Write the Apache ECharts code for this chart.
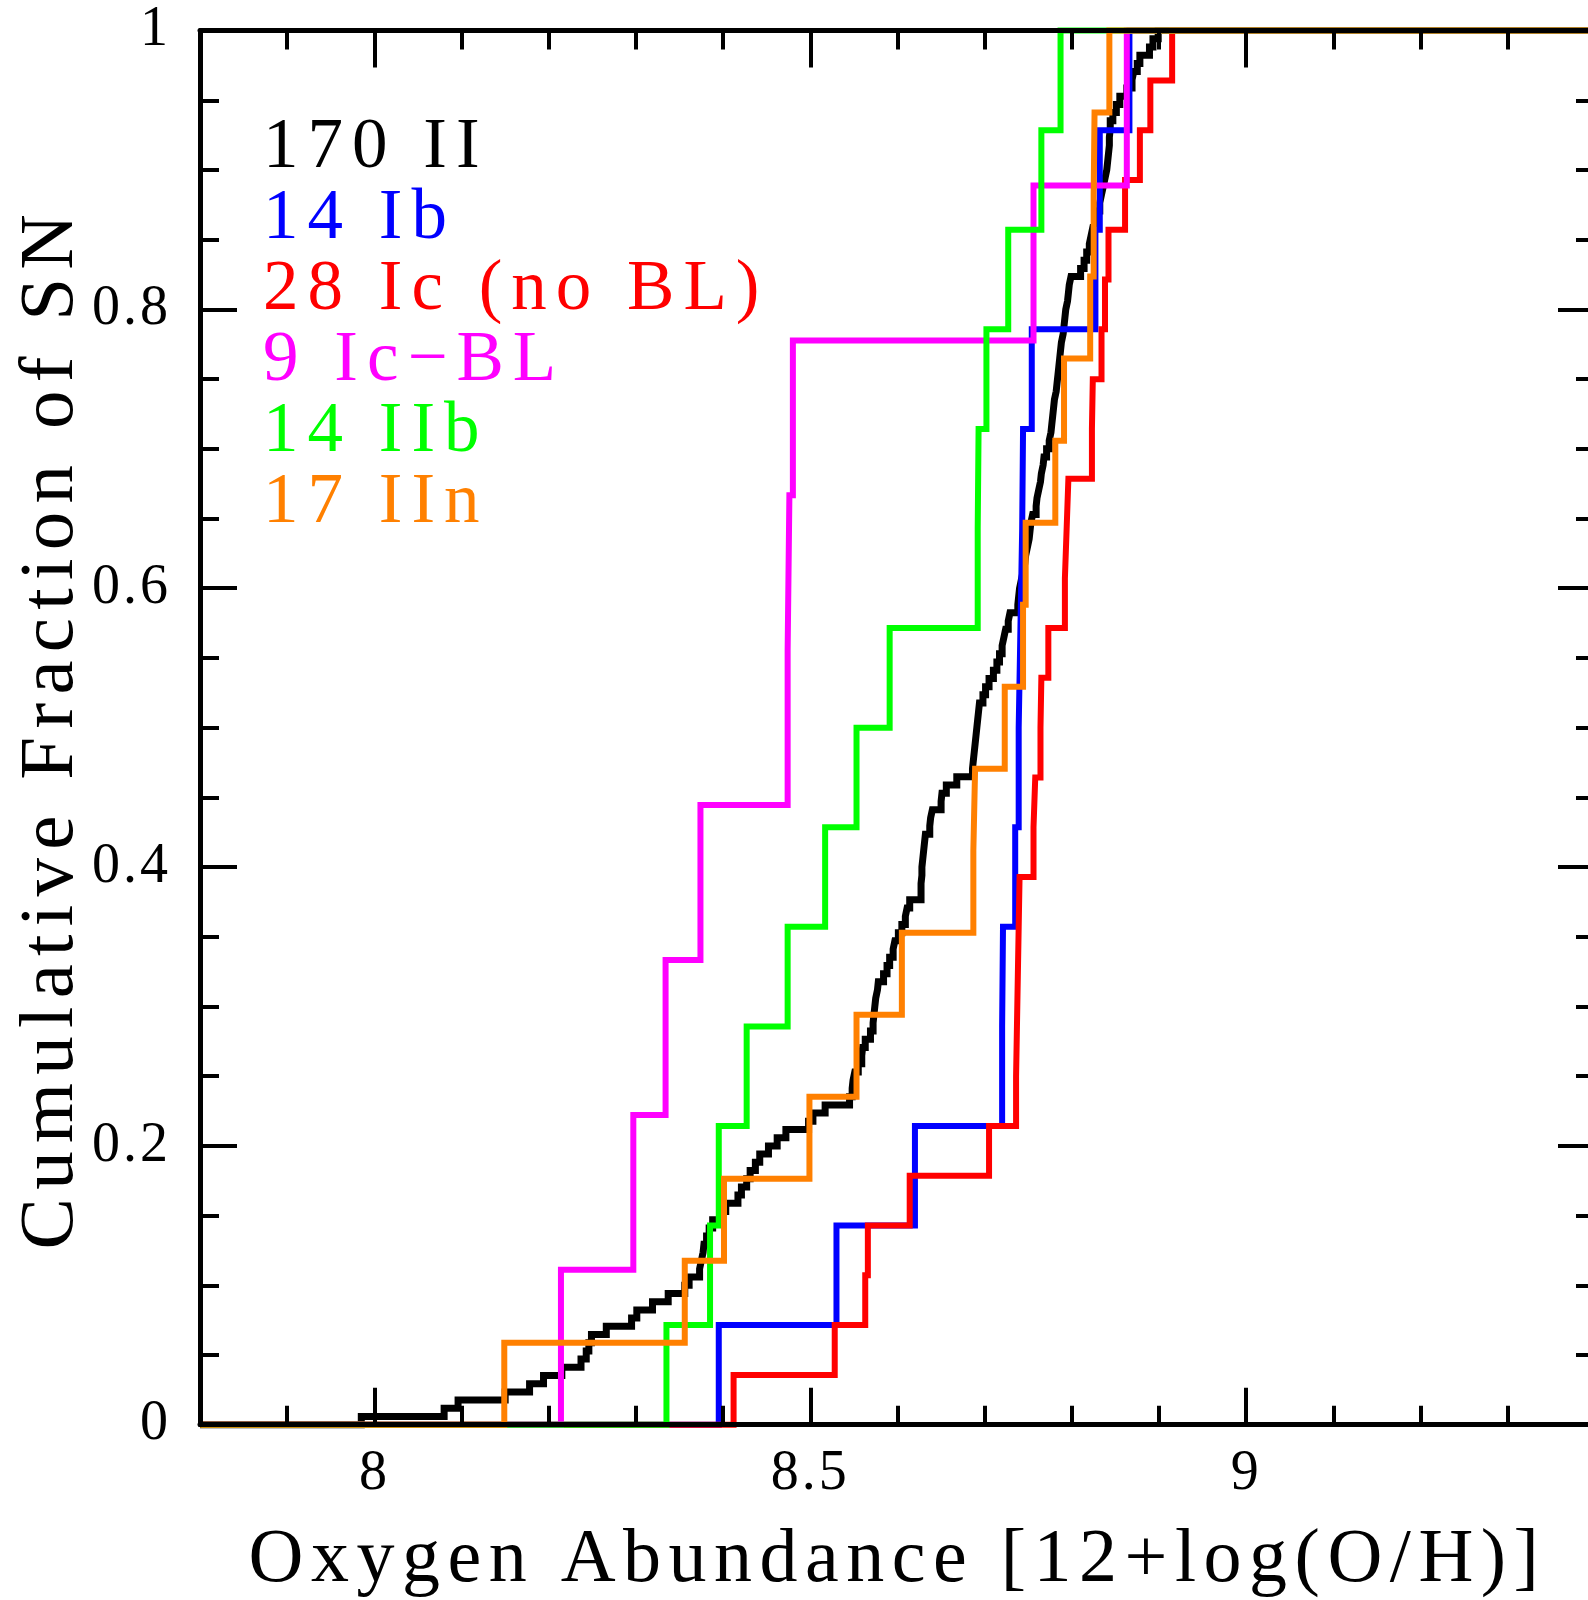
<!DOCTYPE html>
<html>
<head>
<meta charset="utf-8">
<script src="https://cdn.jsdelivr.net/npm/echarts@6/dist/echarts.min.js"></script>
<style>
  html, body { margin: 0; padding: 0; background: #ffffff; overflow: hidden; }
  #chart { width: 1600px; height: 1600px; }
</style>
</head>
<body>
<div id="chart"></div>
<script>
// Host-galaxy oxygen abundances, 12+log(O/H), sorted ascending, one array per SN class
const typeII = [
  7.985, 8.080, 8.096, 8.150, 8.178, 8.194, 8.215, 8.237, 8.243, 8.246,
  8.249, 8.266, 8.295, 8.301, 8.319, 8.337, 8.356, 8.361, 8.373, 8.375,
  8.377, 8.378, 8.381, 8.384, 8.388, 8.398, 8.403, 8.417, 8.421, 8.427,
  8.431, 8.437, 8.442, 8.452, 8.462, 8.472, 8.498, 8.503, 8.517, 8.545,
  8.548, 8.549, 8.551, 8.555, 8.559, 8.560, 8.563, 8.569, 8.572, 8.573,
  8.574, 8.575, 8.577, 8.578, 8.584, 8.588, 8.591, 8.595, 8.597, 8.601,
  8.605, 8.609, 8.611, 8.614, 8.627, 8.627, 8.628, 8.628, 8.629, 8.630,
  8.631, 8.632, 8.637, 8.638, 8.640, 8.650, 8.651, 8.656, 8.668, 8.686,
  8.687, 8.688, 8.689, 8.690, 8.691, 8.692, 8.693, 8.694, 8.698, 8.701,
  8.705, 8.710, 8.714, 8.717, 8.720, 8.722, 8.724, 8.727, 8.729, 8.738,
  8.739, 8.740, 8.742, 8.744, 8.746, 8.747, 8.749, 8.751, 8.752, 8.753,
  8.755, 8.759, 8.760, 8.762, 8.764, 8.765, 8.767, 8.768, 8.771, 8.774,
  8.776, 8.777, 8.778, 8.779, 8.780, 8.782, 8.783, 8.784, 8.785, 8.786,
  8.787, 8.788, 8.790, 8.791, 8.792, 8.793, 8.795, 8.796, 8.797, 8.799,
  8.810, 8.814, 8.817, 8.820, 8.822, 8.824, 8.827, 8.829, 8.832, 8.834,
  8.836, 8.838, 8.840, 8.841, 8.842, 8.843, 8.843, 8.844, 8.844, 8.847,
  8.851, 8.855, 8.863, 8.869, 8.871, 8.875, 8.878, 8.889, 8.893, 8.899
];
const typeIb = [8.395, 8.530, 8.620, 8.720, 8.721, 8.735, 8.739, 8.741, 8.743, 8.744, 8.754, 8.827, 8.832, 8.866];
const typeIc = [
  8.412, 8.528, 8.563, 8.566, 8.614, 8.705, 8.736, 8.737, 8.738, 8.739,
  8.740, 8.756, 8.758, 8.764, 8.765, 8.773, 8.792, 8.794, 8.796, 8.823,
  8.824, 8.834, 8.838, 8.842, 8.861, 8.878, 8.890, 8.915
];
const typeIcBL = [8.214, 8.297, 8.334, 8.374, 8.474, 8.476, 8.480, 8.756, 8.863];
const typeIIb = [8.335, 8.385, 8.395, 8.427, 8.474, 8.517, 8.553, 8.591, 8.692, 8.693, 8.702, 8.727, 8.765, 8.787];
const typeIIn = [8.149, 8.356, 8.401, 8.499, 8.553, 8.605, 8.687, 8.689, 8.723, 8.744, 8.747, 8.781, 8.791, 8.821, 8.825, 8.826, 8.843];

// Class names shown after the sample size
const classNames = ['II', 'Ib', 'Ic (no BL)', 'Ic\u2212BL', 'IIb', 'IIn'];
const classColors = ['#000000', '#0000ff', '#ff0000', '#ff00ff', '#00ff00', '#ff8000'];
const classSamples = [typeII, typeIb, typeIc, typeIcBL, typeIIb, typeIIn];

// Axis range and tick positions
const xRange = [7.8, 9.4];
const xMajorTicks = [8, 8.5, 9];
const xMinorTicks = [7.9, 8.1, 8.2, 8.3, 8.4, 8.6, 8.7, 8.8, 8.9, 9.1, 9.2, 9.3];
const yMajorTicks = [0, 0.2, 0.4, 0.6, 0.8, 1];
const yMinorTicks = [0.05, 0.1, 0.15, 0.25, 0.3, 0.35, 0.45, 0.5, 0.55, 0.65, 0.7, 0.75, 0.85, 0.9, 0.95];

const FONT = "'Liberation Serif', 'DejaVu Serif', serif";

// Wide tracking for the plotting-package lettering, keyed on font size
function trackingFor(font) {
  const m = /(\d+(?:\.\d+)?)px/.exec(font || '');
  const size = m ? parseFloat(m[1]) : 12;
  if (size >= 77) return 8.3;
  if (size >= 74) return 7.5;
  if (size >= 64) return 9;
  if (size >= 45) return 3;
  return 0;
}
(function () {
  const proto = CanvasRenderingContext2D.prototype;
  const rawFillText = proto.fillText;
  proto.fillText = function (text, x, y, maxWidth) {
    if ('letterSpacing' in this) this.letterSpacing = trackingFor(this.font) + 'px';
    return maxWidth === undefined
      ? rawFillText.call(this, text, x, y)
      : rawFillText.call(this, text, x, y, maxWidth);
  };
})();

// Empirical cumulative distribution as an explicit staircase
function cumulativeSteps(values) {
  const n = values.length;
  const pts = [[xRange[0], 0]];
  values.forEach(function (v, i) {
    pts.push([v, i / n]);
    pts.push([v, (i + 1) / n]);
  });
  pts.push([xRange[1], 1]);
  return pts;
}

const labels = classSamples.map(function (s, i) { return s.length + ' ' + classNames[i]; });

const series = classSamples.map(function (s, i) {
  return {
    name: labels[i],
    type: 'line',
    data: cumulativeSteps(s),
    symbol: 'none',
    clip: false,
    silent: true,
    lineStyle: { color: classColors[i], width: i === 0 ? 7 : 6, join: 'miter', cap: 'butt' },
    itemStyle: { color: classColors[i] }
  };
});

const tickStyle = { color: '#000', width: 4 };
const AXIS_Z = 5;

function xAxisDef(position, ticks, len, withLine, withLabels) {
  return {
    type: 'value', position: position, min: xRange[0], max: xRange[1], z: AXIS_Z,
    axisLine: { show: withLine, onZero: false, lineStyle: { color: '#000', width: 5 } },
    axisTick: { show: true, inside: true, length: len, customValues: ticks, lineStyle: tickStyle },
    axisLabel: withLabels
      ? { show: true, customValues: ticks, margin: 22, color: '#000', fontFamily: FONT, fontSize: 56 }
      : { show: false },
    splitLine: { show: false }
  };
}
function yAxisDef(position, ticks, len, withLine, withLabels) {
  return {
    type: 'value', position: position, min: 0, max: 1, z: AXIS_Z,
    axisLine: { show: withLine, onZero: false, lineStyle: { color: '#000', width: 5 } },
    axisTick: { show: true, inside: true, length: len, customValues: ticks, lineStyle: tickStyle },
    axisLabel: withLabels
      ? { show: true, customValues: ticks, margin: 29, color: '#000', fontFamily: FONT, fontSize: 56 }
      : { show: false },
    splitLine: { show: false }
  };
}

const xMain = xAxisDef('bottom', xMajorTicks, 37, true, true);
xMain.name = 'Oxygen Abundance [12+log(O/H)]';
xMain.nameLocation = 'middle';
xMain.nameGap = 98;
xMain.nameTextStyle = { color: '#000', fontFamily: FONT, fontSize: 76 };

const yMain = yAxisDef('left', yMajorTicks, 37, true, true);
yMain.name = 'Cumulative Fraction of SN';
yMain.nameLocation = 'middle';
yMain.nameGap = 105;
yMain.nameTextStyle = { color: '#000', fontFamily: FONT, fontSize: 77 };

const chart = echarts.init(document.getElementById('chart'), null, { renderer: 'canvas' });
chart.setOption({
  animation: false,
  backgroundColor: '#ffffff',
  grid: {
    left: 200, top: 30.6, right: 5, bottom: 175.3,
    containLabel: false,
    outerBoundsMode: 'none'
  },
  legend: {
    orient: 'vertical',
    left: 253,
    top: 108,
    icon: 'rect',
    itemWidth: 0,
    itemHeight: 0,
    itemGap: 0,
    selectedMode: false,
    textStyle: { fontFamily: FONT, fontSize: 71, lineHeight: 69.5, padding: 0 },
    data: labels.map(function (l, i) { return { name: l, textStyle: { color: classColors[i] } }; })
  },
  xAxis: [
    xMain,
    xAxisDef('bottom', xMinorTicks, 19, false, false),
    xAxisDef('top', xMajorTicks, 37, true, false),
    xAxisDef('top', xMinorTicks, 19, false, false)
  ],
  yAxis: [
    yMain,
    yAxisDef('left', yMinorTicks, 19, false, false),
    yAxisDef('right', yMajorTicks, 37, true, false),
    yAxisDef('right', yMinorTicks, 19, false, false)
  ],
  series: series
});
</script>
</body>
</html>
